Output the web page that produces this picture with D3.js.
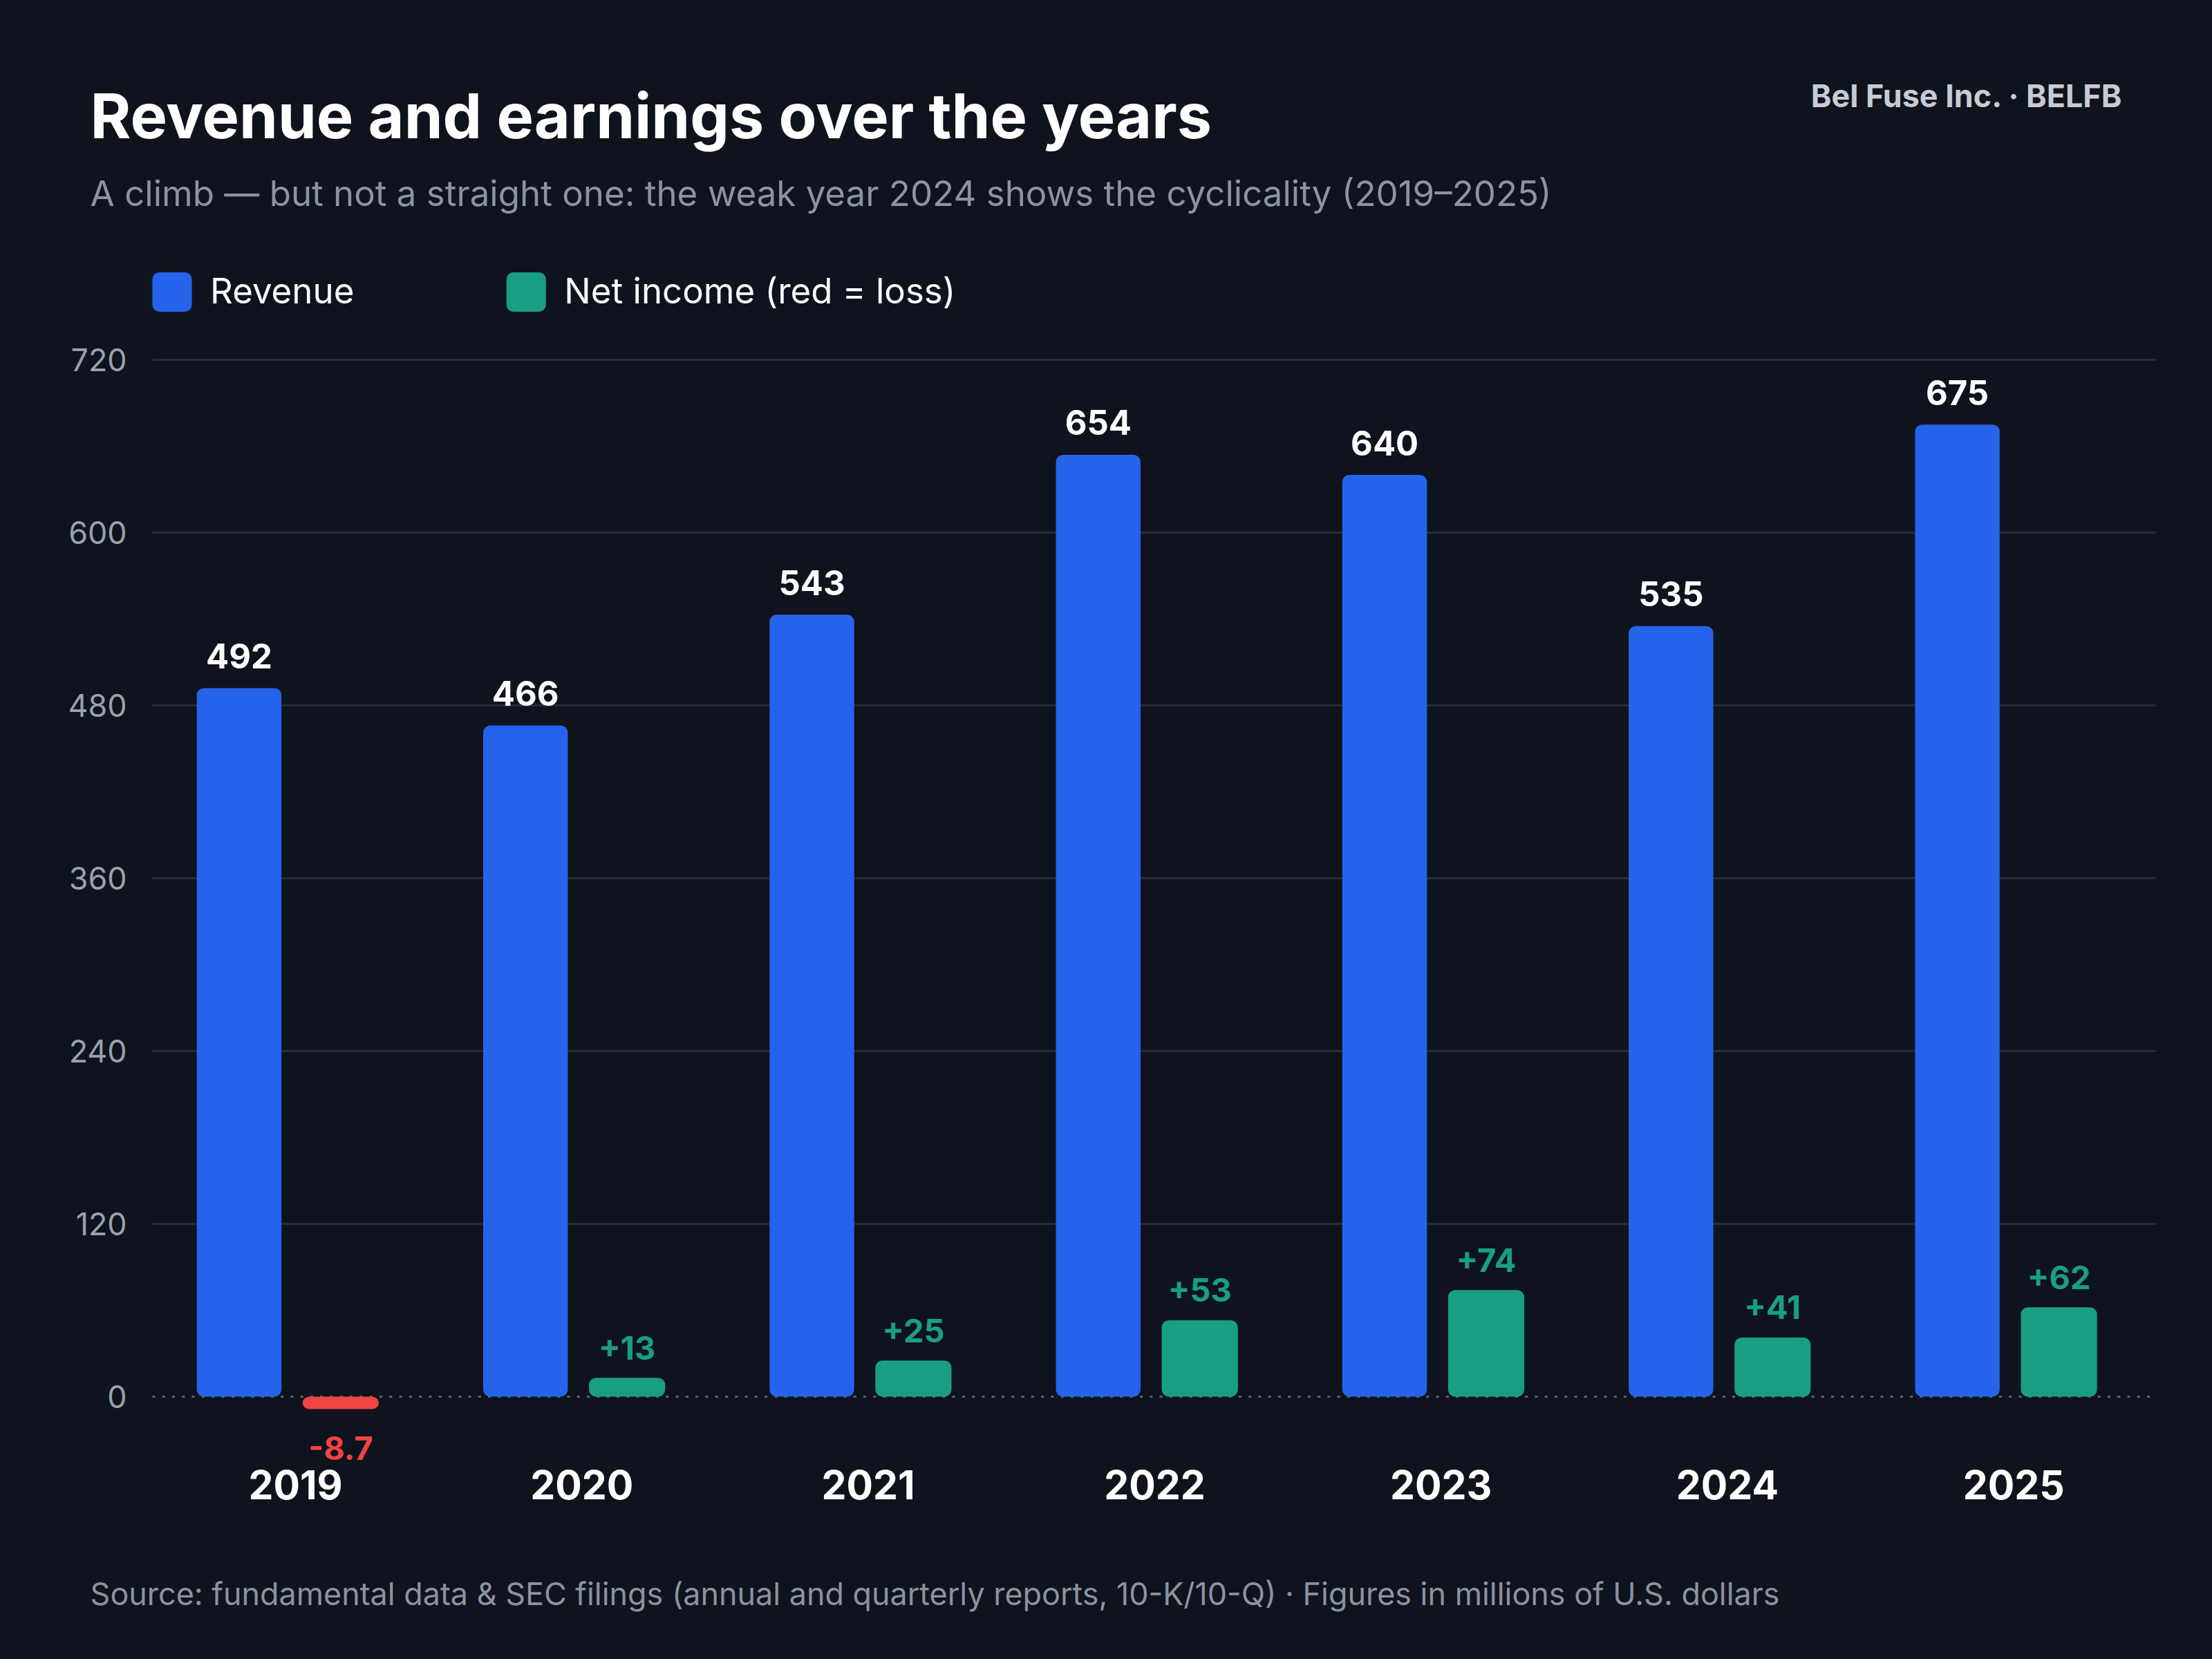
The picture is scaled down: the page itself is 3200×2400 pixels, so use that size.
<!DOCTYPE html>
<html><head><meta charset="utf-8">
<script src="https://cdn.jsdelivr.net/npm/d3@7"></script>
<style>body{margin:0;background:#0f131d}svg{display:block}text{font-family:Inter,"Noto Sans",sans-serif}</style>
</head><body><div id="chart"></div>
<script>
var years = ["2019","2020","2021","2022","2023","2024","2025"];
var revenue = [492, 466, 543, 654, 640, 535, 675];
var netIncome = [-8.7, 13, 25, 53, 74, 41, 62];
var yTicks = [0, 120, 240, 360, 480, 600, 720];

var svg = d3.select("#chart").append("svg")
    .attr("width", 3200).attr("height", 2400)
    .attr("viewBox", "0 0 1568 1176");
svg.append("rect").attr("width", 1568).attr("height", 1176).attr("fill", "#0f131d");

var x = d3.scaleBand().domain(years).range([108, 1529]);
var y = d3.scaleLinear().domain([0, 720]).range([990, 255]);

// grid
svg.selectAll(".grid").data(yTicks.slice(1)).enter().append("line")
  .attr("x1", 108).attr("x2", 1528)
  .attr("y1", function(d) { return y(d); }).attr("y2", function(d) { return y(d); })
  .attr("stroke", "#272c38").attr("stroke-width", 1.5);
svg.append("line").attr("x1", 108).attr("x2", 1528).attr("y1", y(0)).attr("y2", y(0))
  .attr("stroke", "#5a6070").attr("stroke-width", 1.5).attr("stroke-dasharray", "2,5");
svg.selectAll(".yt").data(yTicks).enter().append("text")
  .attr("x", 90).attr("y", function(d) { return y(d) + 8; })
  .attr("text-anchor", "end").attr("fill", "#9aa0ad").attr("font-size", 22)
  .text(function(d) { return d; });

function c(i) { return x(years[i]) + x.bandwidth() / 2; }

// revenue bars
svg.selectAll(".rev").data(revenue).enter().append("rect")
  .attr("x", function(d, i) { return c(i) - 70; }).attr("width", 60)
  .attr("y", function(d) { return y(d); })
  .attr("height", function(d) { return y(0) - y(d); })
  .attr("rx", 5).attr("fill", "#2563eb");
svg.selectAll(".revl").data(revenue).enter().append("text")
  .attr("x", function(d, i) { return c(i) - 40; })
  .attr("y", function(d) { return y(d) - 14; })
  .attr("text-anchor", "middle").attr("fill", "#fff").attr("font-size", 24).attr("font-weight", 700)
  .text(function(d) { return d; });

// net income bars
svg.selectAll(".ni").data(netIncome).enter().append("rect")
  .attr("x", function(d, i) { return c(i) + 5; }).attr("width", 54)
  .attr("y", function(d) { return d >= 0 ? y(d) : y(0); })
  .attr("height", function(d) { return Math.abs(y(0) - y(d)); })
  .attr("rx", 5).attr("fill", function(d) { return d < 0 ? "#ef4444" : "#1a9e82"; });
svg.selectAll(".nil").data(netIncome).enter().append("text")
  .attr("x", function(d, i) { return c(i) + 32; })
  .attr("y", function(d) { return d >= 0 ? y(d) - 13 : y(d) + 36; })
  .attr("text-anchor", "middle").attr("font-size", 23).attr("font-weight", 700)
  .attr("fill", function(d) { return d < 0 ? "#ef4444" : "#1a9e82"; })
  .text(function(d) { return d < 0 ? d : "+" + d; });

// x labels
svg.selectAll(".xl").data(years).enter().append("text")
  .attr("x", function(d, i) { return c(i); }).attr("y", 1063)
  .attr("text-anchor", "middle").attr("fill", "#fff").attr("font-size", 28).attr("font-weight", 700)
  .text(function(d) { return d; });

// titles
svg.append("text").attr("x", 64).attr("y", 98).attr("fill", "#fff")
  .attr("font-size", 44).attr("font-weight", 700).text("Revenue and earnings over the years");
svg.append("text").attr("x", 64).attr("y", 146).attr("fill", "#8c92a0").attr("font-size", 25)
  .text("A climb — but not a straight one: the weak year 2024 shows the cyclicality (2019–2025)");
svg.append("text").attr("x", 1504).attr("y", 76).attr("text-anchor", "end").attr("fill", "#c7cbd3")
  .attr("font-size", 22).attr("font-weight", 700).text("Bel Fuse Inc. · BELFB");
svg.append("text").attr("x", 64).attr("y", 1138).attr("fill", "#8c92a0").attr("font-size", 22)
  .text("Source: fundamental data & SEC filings (annual and quarterly reports, 10-K/10-Q) · Figures in millions of U.S. dollars");

// legend
var legend = [{label: "Revenue", color: "#2563eb", x: 108}, {label: "Net income (red = loss)", color: "#1a9e82", x: 359}];
var lg = svg.selectAll(".lg").data(legend).enter().append("g");
lg.append("rect").attr("x", function(d) { return d.x; }).attr("y", 193).attr("width", 28).attr("height", 28)
  .attr("rx", 5).attr("fill", function(d) { return d.color; });
lg.append("text").attr("x", function(d) { return d.x + 41; }).attr("y", 215).attr("fill", "#fff")
  .attr("font-size", 25).text(function(d) { return d.label; });
</script></body></html>
